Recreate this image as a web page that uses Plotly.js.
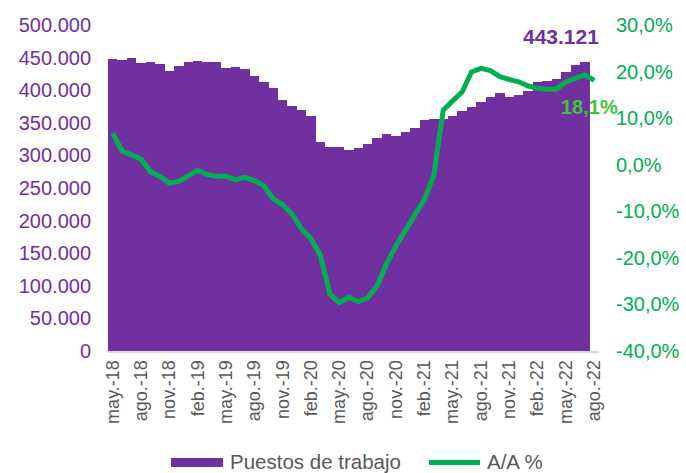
<!DOCTYPE html>
<html>
<head>
<meta charset="utf-8">
<script src="https://cdn.plot.ly/plotly-3.0.1.min.js"></script>
<style>html,body{margin:0;padding:0;background:#fff;}#chart{width:686px;height:473px;}</style>
</head>
<body>
<div id="chart"></div>
<script>
const months = ['may.','jun.','jul.','ago.','sep.','oct.','nov.','dic.','ene.','feb.','mar.','abr.'];
const categories = [];
(function(){ let m = 0, y = 18; for (let i = 0; i < 52; i++) { categories.push(months[m] + '-' + y); m++; if (m === 12) m = 0; if (m === 8) y++; } })();

const puestos = [447500, 447000, 449000, 441000, 443000, 440000, 429000, 437000, 443000, 445500,
  443000, 443000, 433500, 435000, 432000, 422000, 412000, 404000, 385000, 376000,
  370000, 360000, 321000, 313000, 313000, 309000, 311000, 318000, 327000, 333000,
  329000, 336000, 342000, 355000, 356000, 356000, 361000, 368000, 375000, 382000,
  389000, 395000, 389000, 392000, 399000, 413000, 414000, 417000, 428000, 438000,
  443121, null];

const aa = [6.8, 2.9, 2.1, 1.2, -1.5, -2.5, -4.0, -3.6, -2.4, -1.2,
  -2.1, -2.5, -2.5, -3.2, -2.7, -3.4, -4.5, -7.3, -8.6, -10.6,
  -13.8, -15.9, -19.5, -27.8, -29.6, -28.4, -29.4, -28.6, -26.0, -21.3,
  -17.4, -14.2, -10.9, -7.5, -2.3, 11.7, 13.7, 15.6, 19.9, 20.7,
  20.2, 18.9, 18.3, 17.8, 16.9, 16.4, 16.2, 16.2, 17.8, 18.5,
  19.3, 18.1];

const leftTicks = [0, 50000, 100000, 150000, 200000, 250000, 300000, 350000, 400000, 450000, 500000];
const rightTicks = [-40, -30, -20, -10, 0, 10, 20, 30];
const rightTickText = rightTicks.map(v => v.toFixed(1).replace('.', ',') + '%');
const tickCats = categories.filter((c, i) => i % 3 === 0);

const lastLabel = '443.121';
const lastPct = '18,1%';

const purple = '#7030A0';
const green = '#00B050';
const textGrey = '#595959';

// plot area in px
const W = 686, H = 473;
const M = {l: 108, r: 87, t: 25, b: 122};
const PW = W - M.l - M.r, PH = H - M.t - M.b;
const px = x => (x - M.l) / PW;
const py = y => (H - M.b - y) / PH;

const traces = [
  {
    type: 'bar', x: categories, y: puestos, name: 'Puestos de trabajo',
    marker: {color: purple, line: {width: 0}}, hoverinfo: 'skip', showlegend: false
  },
  {
    type: 'scatter', mode: 'lines', x: categories, y: aa, name: 'A/A %', yaxis: 'y2',
    line: {color: green, width: 5}, hoverinfo: 'skip', showlegend: false
  }
];

const layout = {
  width: W, height: H,
  margin: M,
  paper_bgcolor: '#ffffff', plot_bgcolor: '#ffffff',
  separators: ',.',
  bargap: 0,
  showlegend: false,
  font: {family: 'Liberation Sans, Arial, sans-serif'},
  xaxis: {
    type: 'category', range: [-0.5, 51.5], tickmode: 'array', tickvals: tickCats, ticktext: tickCats,
    tickangle: -90, tickfont: {size: 18, color: textGrey},
    showline: true, linecolor: '#D9D9D9', linewidth: 2, ticks: '', showgrid: false,
    zeroline: false, fixedrange: true, automargin: false
  },
  yaxis: {
    range: [0, 500000], tickmode: 'array', tickvals: leftTicks, tickformat: ',d',
    tickfont: {size: 20, color: purple}, showgrid: false, zeroline: false,
    showline: false, ticks: '', ticklabelstandoff: 16, automargin: false
  },
  yaxis2: {
    overlaying: 'y', side: 'right', range: [-40, 30], tickmode: 'array',
    tickvals: rightTicks, ticktext: rightTickText,
    tickfont: {size: 20, color: green}, showgrid: false, zeroline: false,
    showline: false, ticks: '', ticklabelstandoff: 16, automargin: false
  },
  shapes: [
    {type: 'rect', xref: 'paper', yref: 'paper', x0: px(171), x1: px(223), y0: py(467), y1: py(458),
     fillcolor: purple, line: {width: 0}},
    {type: 'line', xref: 'paper', yref: 'paper', x0: px(429), x1: px(480), y0: py(462.5), y1: py(462.5),
     line: {color: green, width: 5}}
  ],
  annotations: [
    {xref: 'paper', yref: 'paper', x: px(228), y: py(461), text: 'Puestos de trabajo',
     showarrow: false, xanchor: 'left', yanchor: 'middle', font: {size: 20.5, color: textGrey}},
    {xref: 'paper', yref: 'paper', x: px(485), y: py(461), text: 'A/A %',
     showarrow: false, xanchor: 'left', yanchor: 'middle', font: {size: 20.5, color: textGrey}},
    {xref: 'paper', yref: 'paper', x: px(561), y: py(36), text: '<b>' + lastLabel + '</b>',
     showarrow: false, xanchor: 'center', yanchor: 'middle', font: {size: 21, color: purple}},
    {xref: 'paper', yref: 'paper', x: px(589), y: py(106.5), text: '<b>' + lastPct + '</b>',
     showarrow: false, xanchor: 'center', yanchor: 'middle', font: {size: 20, color: '#3DC63D'}}
  ]
};

Plotly.newPlot('chart', traces, layout, {staticPlot: true, displayModeBar: false});
</script>
</body>
</html>
